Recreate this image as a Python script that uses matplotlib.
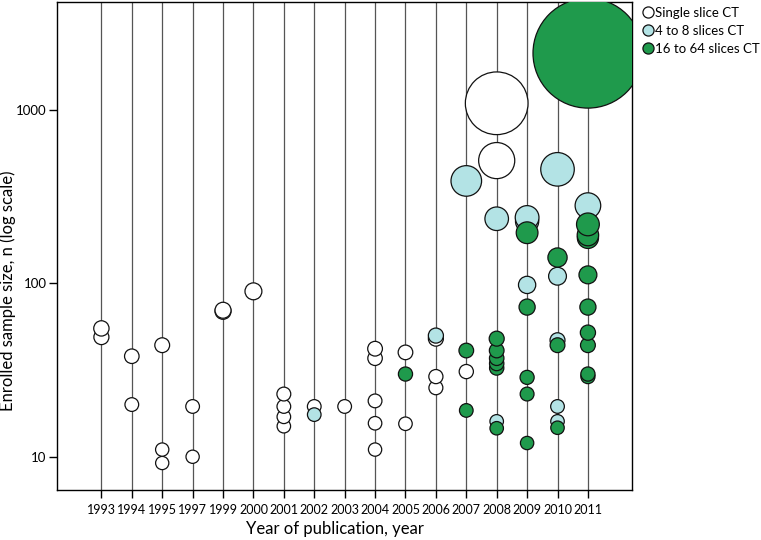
import matplotlib
matplotlib.use("Agg")
import matplotlib.pyplot as plt
import numpy as np
from matplotlib.lines import Line2D
from matplotlib.ticker import NullLocator

plt.rcParams.update(
    {
        "font.family": ["Lato", "DejaVu Sans"],
        "axes.linewidth": 1.0,
        "xtick.major.width": 1.0,
        "ytick.major.width": 1.0,
    }
)

years = [1993, 1994, 1995, 1997, 1999, 2000, 2001, 2002, 2003,
         2004, 2005, 2006, 2007, 2008, 2009, 2010, 2011]

# single slice CT
single_year = [1993, 1993, 1994, 1994, 1995, 1995, 1995, 1997, 1997,
               1999, 1999, 2000, 2001, 2001, 2001, 2001, 2002, 2003,
               2004, 2004, 2004, 2004, 2004, 2005, 2005, 2006, 2006,
               2006, 2007, 2008, 2008]
single_n = [49, 55, 20, 38, 9.2, 11, 44, 10, 19.5,
            69, 70, 90, 15, 17, 19.5, 23, 19.5, 19.5,
            11, 15.6, 21, 37, 42, 15.5, 40, 25, 29,
            48, 31, 511, 1094]

# 4 to 8 slices CT
mid_year = [2002, 2006, 2007, 2008, 2008, 2009, 2009, 2009,
            2010, 2010, 2010, 2010, 2010, 2011]
mid_n = [17.5, 50, 390, 16, 236, 98, 228, 240,
         16, 19.5, 47, 110, 455, 281]

# 16 to 64 slices CT
multi_year = [2005, 2007, 2007, 2008, 2008, 2008, 2008, 2008, 2008,
              2009, 2009, 2009, 2009, 2009, 2010, 2010, 2010,
              2011, 2011, 2011, 2011, 2011, 2011, 2011, 2011, 2011, 2011]
multi_n = [30, 18.5, 41, 14.6, 32.5, 34.5, 37, 41, 48,
           12, 23, 28.7, 73, 196, 14.7, 44, 141,
           29, 30, 44, 52, 73, 112, 183, 190, 219, 2128]

series = [
    ("Single slice CT", single_year, single_n, "white"),
    ("4 to 8 slices CT", mid_year, mid_n, "#b3e3e5"),
    ("16 to 64 slices CT", multi_year, multi_n, "#1f9a4c"),
]

DPI = 100


def marker_area(n):
    # radius grows linearly with enrolled size (pixels), converted to pt^2
    r_px = 6.4 + 0.0228 * np.asarray(n, dtype=float)
    r_pt = r_px * 72 / DPI
    return (2 * r_pt) ** 2


fig = plt.figure(figsize=(7.61, 5.40), dpi=DPI)
ax = fig.add_axes([0.0753, 0.0926, 0.7552, 0.9037])

pos = {y: i for i, y in enumerate(years)}
for i in range(len(years)):
    ax.axvline(i, color="#555555", linewidth=0.9, zorder=1)

for label, yr, n, color in series:
    x = np.array([pos[y] for y in yr])
    n = np.array(n, dtype=float)
    order = np.argsort(n, kind="stable")
    ax.scatter(x[order], n[order], s=marker_area(n[order]), facecolor=color,
               edgecolor="#111111", linewidth=0.9, zorder=3)

ax.set_yscale("log")
ax.set_ylim(6.43, 4200)
ax.set_xlim(-1.45, 17.45)
ax.set_yticks([10, 100, 1000])
ax.set_yticklabels(["10", "100", "1000"])
ax.yaxis.set_minor_locator(NullLocator())
ax.set_xticks(range(len(years)))
ax.set_xticklabels([str(y) for y in years])
ax.tick_params(axis="x", direction="out", length=5.5, pad=4.5, labelsize=9)
ax.tick_params(axis="y", direction="out", length=5.8, pad=2, labelsize=9.5)

ax.set_xlabel("Year of publication, year", fontsize=12)
ax.xaxis.set_label_coords(0.483, -0.063)
ax.set_ylabel("Enrolled sample size, n (log scale)", fontsize=12)
ax.yaxis.set_label_coords(-0.072, 0.408)

handles = [
    Line2D([], [], linestyle="none", marker="o", markersize=8.0,
           markerfacecolor=color, markeredgecolor="#111111", markeredgewidth=0.9)
    for _, _, _, color in series
]
fig.legend(handles, [s[0] for s in series], loc="upper left",
           bbox_to_anchor=(0.843, 0.992), frameon=False, fontsize=9.5,
           handlelength=0.6, handletextpad=0.25, labelspacing=0.45,
           borderaxespad=0.0, borderpad=0.2)

fig.savefig("out.png", dpi=DPI, facecolor="white")
